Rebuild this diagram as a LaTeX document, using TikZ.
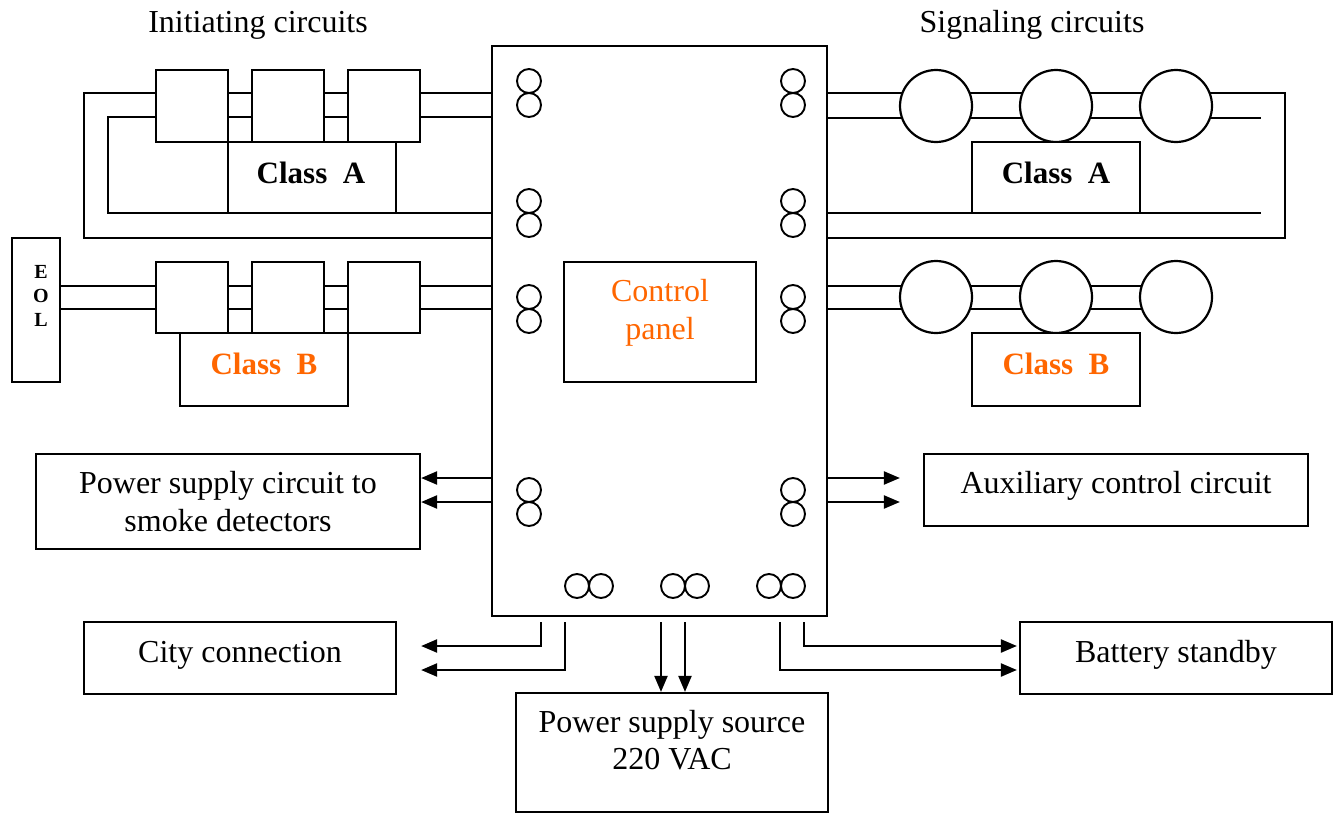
\documentclass[tikz,border=0pt]{standalone}
\usepackage{fontspec}
\setmainfont{Liberation Serif}
\usetikzlibrary{arrows.meta,calc}
\pgfdeclarelayer{bg}
\pgfsetlayers{bg,main}
\definecolor{orng}{RGB}{255,102,0}
\begin{document}
\begin{tikzpicture}[x=1pt,y=-1pt,
  box/.style={draw, line width=2.2pt, rectangle, fill=white, inner sep=0pt},
  dev/.style={draw, line width=2.2pt, rectangle, fill=white, minimum width=72pt, minimum height=72pt, inner sep=0pt},
  sig/.style={draw, line width=2.2pt, circle, fill=white, minimum size=72pt, inner sep=0pt},
  term/.style={draw, circle, minimum size=24pt, inner sep=0pt, line width=1.9pt},
  wire/.style={draw, line width=2.2pt},
  txt/.style={font=\fontsize{32}{37.5}\selectfont, align=center, inner sep=0pt},
  cls/.style={font=\fontsize{31}{36}\selectfont\bfseries, inner sep=0pt, anchor=base},
  arr/.style={line width=2.2pt, -{Triangle[length=16pt,width=13pt]}},
]
\useasboundingbox (0,0) rectangle (1340,814);

% titles
\node[txt,anchor=base] (tinit) at (258,32) {Initiating circuits};
\node[txt,anchor=base] (tsig) at (1032,32) {Signaling circuits};

% control panel
\node[box, minimum width=335pt, minimum height=570pt] (panel) at (659.5,331) {};
\node[box, minimum width=192pt, minimum height=120pt] (cp) at (660,322) {};
\node[txt, text=orng] (cpt) at (660,313) {Control\\panel};

% terminals
\foreach \y [count=\i] in {81,105,201,225,297,321,490,514} {
  \node[term] (tl\i) at (529,\y) {};
  \node[term] (tr\i) at (793,\y) {};
}
\foreach \x [count=\i] in {577,601,673,697,769,793} {
  \node[term] (tb\i) at (\x,586) {};
}

% initiating circuits, class A
\node[dev] (ia1) at (192,106) {};
\node[dev] (ia2) at (288,106) {};
\node[dev] (ia3) at (384,106) {};
\node[box, minimum width=168pt, minimum height=71pt] (clA1) at (312,177.5) {};
\node[cls] (clA1t) at (311,183) {Class\ \ A};

% initiating circuits, class B
\node[dev, minimum height=71pt] (ib1) at (192,297.5) {};
\node[dev, minimum height=71pt] (ib2) at (288,297.5) {};
\node[dev, minimum height=71pt] (ib3) at (384,297.5) {};
\node[box, minimum width=48pt, minimum height=144pt] (eol) at (36,310) {};
\node[font=\fontsize{20}{24.3}\selectfont\bfseries, align=center, inner sep=0pt] (eolt) at (41,296) {E\\O\\L};
\node[box, minimum width=168pt, minimum height=73pt] (clB1) at (264,369.5) {};
\node[cls, text=orng] (clB1t) at (264,374) {Class\ \ B};

% signaling circuits, class A
\node[sig] (sa1) at (936,106) {};
\node[sig] (sa2) at (1056,106) {};
\node[sig] (sa3) at (1176,106) {};
\node[box, minimum width=168pt, minimum height=71pt] (clA2) at (1056,177.5) {};
\node[cls] (clA2t) at (1056,183) {Class\ \ A};

% signaling circuits, class B
\node[sig] (sb1) at (936,297) {};
\node[sig] (sb2) at (1056,297) {};
\node[sig] (sb3) at (1176,297) {};
\node[box, minimum width=168pt, minimum height=73pt] (clB2) at (1056,369.5) {};
\node[cls, text=orng] (clB2t) at (1056,374) {Class\ \ B};

% wires (behind devices)
\coordinate (la1) at (84,93);   \coordinate (la2) at (84,238);
\coordinate (lb1) at (108,117); \coordinate (lb2) at (108,213);
\coordinate (ra1) at (1285,93); \coordinate (ra2) at (1285,238);
\coordinate (re1) at (1261,118); \coordinate (re2) at (1261,213);
\begin{pgfonlayer}{bg}
\path[wire] (panel.west |- la1) -- (la1) -- (la2) -- (panel.west |- la2);
\path[wire] (panel.west |- lb1) -- (lb1) -- (lb2) -- (panel.west |- lb2);
\path[wire] (eol.east |- 0,286) -- (panel.west |- 0,286);
\path[wire] (eol.east |- 0,309) -- (panel.west |- 0,309);
\path[wire] (panel.east |- ra1) -- (ra1) -- (ra2) -- (panel.east |- ra2);
\path[wire] (panel.east |- re1) -- (re1);
\path[wire] (panel.east |- re2) -- (re2);
\path[wire] (panel.east |- 0,286) -- (sb3.center |- 0,286);
\path[wire] (panel.east |- 0,309) -- (sb3.center |- 0,309);
\end{pgfonlayer}

% lower boxes
\node[box, txt, minimum width=384pt, minimum height=95pt] (psc) at (228,501.5) {Power supply circuit to\\smoke detectors};
\node[box, minimum width=384pt, minimum height=72pt] (aux) at (1116,490) {};
\node[txt, anchor=base] (auxt) at (1116,493) {Auxiliary control circuit};
\node[box, minimum width=312pt, minimum height=72pt] (city) at (240,658) {};
\node[txt, anchor=base] (cityt) at (240,662) {City connection};
\node[box, minimum width=312pt, minimum height=119pt] (src) at (672,752.5) {};
\node[txt] (srct) at (672,740) {Power supply source\\220 VAC};
\node[box, minimum width=312pt, minimum height=72pt] (bat) at (1176,658) {};
\node[txt, anchor=base] (batt) at (1176,662) {Battery standby};

% arrows
\draw[arr] (panel.west |- 0,478) -- (psc.east |- 0,478);
\draw[arr] (panel.west |- 0,502) -- (psc.east |- 0,502);
\draw[arr] (panel.east |- 0,478) -- ([xshift=-23pt]aux.west |- 0,478);
\draw[arr] (panel.east |- 0,502) -- ([xshift=-23pt]aux.west |- 0,502);

\coordinate (s1) at (541,622);
\coordinate (s2) at (565,622);
\coordinate (s3) at (661,622);
\coordinate (s4) at (685,622);
\coordinate (s5) at (780,622);
\coordinate (s6) at (804,622);
\draw[arr] (s1) -- (541,646) -- ([xshift=24pt]city.east |- 0,646);
\draw[arr] (s2) -- (565,670) -- ([xshift=24pt]city.east |- 0,670);
\draw[arr] (s3) -- (src.north -| s3);
\draw[arr] (s4) -- (src.north -| s4);
\draw[arr] (s6) -- (804,646) -- ([xshift=-2pt]bat.west |- 0,646);
\draw[arr] (s5) -- (780,670) -- ([xshift=-2pt]bat.west |- 0,670);
\end{tikzpicture}
\end{document}
